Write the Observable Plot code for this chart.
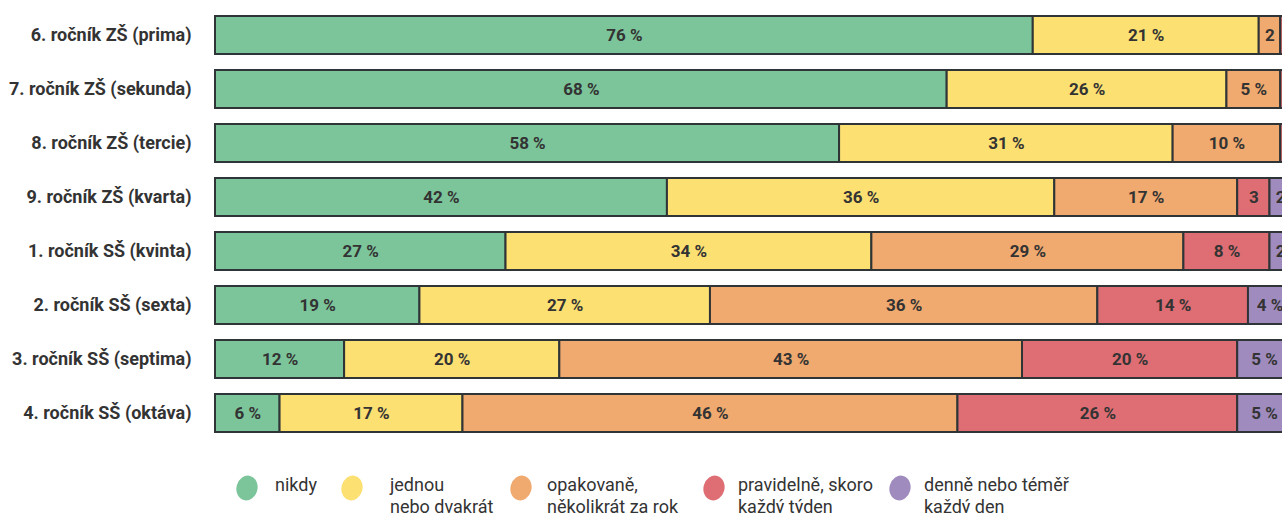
<!DOCTYPE html>
<html><head><meta charset="utf-8">
<script src="https://cdn.jsdelivr.net/npm/d3@7"></script>
<script src="https://cdn.jsdelivr.net/npm/@observablehq/plot@0.6"></script>
<style>
html,body{margin:0;padding:0;overflow:hidden;background:#fff;width:1282px;height:513px;font-family:Roboto,sans-serif;}
#chart{position:absolute;left:0;top:-2px;width:1300px;}
#chart svg{max-width:none !important;}
#chart g[aria-label="y-axis tick label"] text{font-weight:700;font-size:18px;fill:#333;}
#legend{position:absolute;left:0;top:474px;width:1282px;height:60px;}
.sw{position:absolute;top:0;}
.tx{position:absolute;top:0;font-size:18px;line-height:22px;color:#333;white-space:nowrap;}
</style></head>
<body>
<div id="chart"></div>
<div id="legend"></div>
<script>
const grades = ["6. ročník ZŠ (prima)","7. ročník ZŠ (sekunda)","8. ročník ZŠ (tercie)","9. ročník ZŠ (kvarta)","1. ročník SŠ (kvinta)","2. ročník SŠ (sexta)","3. ročník SŠ (septima)","4. ročník SŠ (oktáva)"];
const series = ["nikdy","jednou nebo dvakrát","opakovaně, několikrát za rok","pravidelně, skoro každý týden","denně nebo téměř každý den"];
const legendLines = [["nikdy"],["jednou","nebo dvakrát"],["opakovaně,","několikrát za rok"],["pravidelně, skoro","každý týden"],["denně nebo téměř","každý den"]];
const colors = ["#7cc49a","#fde072","#f0a96e","#de6e73","#9f8bbd"];
const nikdy     = [76,68,58,42,27,19,12,6];
const jednou    = [21,26,31,36,34,27,20,17];
const opakovane = [2,5,10,17,29,36,43,46];
const pravidelne= [1,1,1,3,8,14,20,26];
const denne     = [0,0,0,2,2,4,5,5];
const cols = [nikdy,jednou,opakovane,pravidelne,denne];

const rows = [];
grades.forEach((g,i)=>series.forEach((s,j)=>{
  const v = cols[j][i];
  if (v>0) rows.push({grade:g, series:s, value:v, label: v>3 ? `${v} %` : `${v}`});
}));

const chart = Plot.plot({
  width:1300, height:451,
  marginLeft:215, marginRight:9, marginTop:0, marginBottom:0,
  style:{fontFamily:"Roboto, sans-serif", background:"#fff", maxWidth:"none"},
  x:{domain:[0,100], axis:null},
  y:{domain:grades, padding:0.3, label:null, tickSize:0, tickPadding:24},
  color:{domain:series, range:colors},
  marks:[
    Plot.barX(rows, Plot.stackX({x:"value", y:"grade", fill:"series", stroke:"#2f3436", strokeWidth:2})),
    Plot.text(rows, Plot.stackX({x:"value", y:"grade", text:"label", fill:"#333", fontWeight:"bold", fontSize:17}))
  ]
});
document.getElementById("chart").append(chart);

const swLeft = [235,340,509,702,888];
const txLeft = [275,390,547,738,924];
const lg = document.getElementById("legend");
series.forEach((s,j)=>{
  const b = document.createElement("div");
  b.className="sw"; b.style.left = swLeft[j]+"px";
  b.innerHTML = `<svg width="24" height="28"><ellipse cx="12" cy="14" rx="10.5" ry="12.5" transform="rotate(15 12 14)" fill="${colors[j]}"/></svg>`;
  const t = document.createElement("div");
  t.className="tx"; t.style.left = txLeft[j]+"px";
  t.innerHTML = legendLines[j].join("<br>");
  lg.append(b, t);
});
</script>
</body></html>
